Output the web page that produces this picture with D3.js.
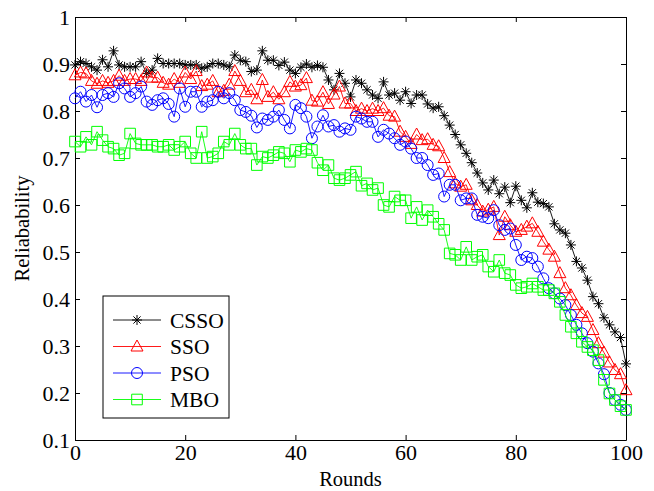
<!DOCTYPE html>
<html>
<head>
<meta charset="utf-8">
<script src="https://cdn.jsdelivr.net/npm/d3@7"></script>
<style>
  body { margin: 0; background: #fff; }
  svg { display: block; font-family: 'Liberation Serif', 'Times New Roman', serif; }
</style>
</head>
<body>
<div class="Canvas"></div>
<script>
// rounds 0..100
const rounds = d3.range(0, 101);

const csso = [
  0.898, 0.905, 0.901, 0.894, 0.887, 0.909, 0.894, 0.928, 0.898, 0.894,
  0.894, 0.894, 0.905, 0.880, 0.887, 0.912, 0.901, 0.901, 0.901, 0.901,
  0.898, 0.898, 0.898, 0.891, 0.894, 0.901, 0.901, 0.898, 0.894, 0.919,
  0.908, 0.905, 0.884, 0.887, 0.928, 0.908, 0.908, 0.897, 0.904, 0.887,
  0.880, 0.893, 0.900, 0.893, 0.897, 0.893, 0.866, 0.845, 0.880, 0.859,
  0.830, 0.866, 0.859, 0.845, 0.834, 0.827, 0.862, 0.834, 0.838, 0.823,
  0.841, 0.816, 0.834, 0.834, 0.815, 0.806, 0.809, 0.790, 0.770, 0.750,
  0.728, 0.710, 0.690, 0.668, 0.647, 0.632, 0.653, 0.624, 0.638, 0.605,
  0.640, 0.610, 0.594, 0.626, 0.606, 0.603, 0.596, 0.560, 0.547, 0.540,
  0.515, 0.480, 0.466, 0.440, 0.405, 0.390, 0.360, 0.345, 0.330, 0.318, 0.262,
];
const sso = [
  0.876, 0.882, 0.880, 0.864, 0.858, 0.864, 0.860, 0.864, 0.875, 0.864,
  0.868, 0.868, 0.864, 0.882, 0.871, 0.871, 0.860, 0.856, 0.868, 0.860,
  0.882, 0.868, 0.885, 0.853, 0.856, 0.864, 0.840, 0.843, 0.856, 0.885,
  0.864, 0.840, 0.845, 0.825, 0.866, 0.830, 0.840, 0.825, 0.840, 0.862,
  0.852, 0.855, 0.870, 0.822, 0.820, 0.840, 0.815, 0.835, 0.852, 0.816,
  0.816, 0.800, 0.805, 0.800, 0.805, 0.800, 0.806, 0.790, 0.788, 0.756,
  0.745, 0.730, 0.750, 0.738, 0.740, 0.728, 0.725, 0.700, 0.670, 0.646,
  0.639, 0.643, 0.610, 0.600, 0.586, 0.590, 0.596, 0.536, 0.575, 0.557,
  0.543, 0.547, 0.554, 0.561, 0.543, 0.522, 0.505, 0.490, 0.455, 0.423,
  0.408, 0.387, 0.370, 0.362, 0.334, 0.306, 0.286, 0.265, 0.249, 0.240, 0.206,
];
const pso = [
  0.827, 0.841, 0.820, 0.834, 0.808, 0.834, 0.838, 0.830, 0.859, 0.848,
  0.830, 0.838, 0.852, 0.820, 0.813, 0.823, 0.827, 0.815, 0.788, 0.848,
  0.809, 0.841, 0.841, 0.809, 0.820, 0.823, 0.841, 0.827, 0.838, 0.823,
  0.802, 0.798, 0.790, 0.765, 0.784, 0.781, 0.788, 0.802, 0.781, 0.763,
  0.813, 0.806, 0.788, 0.742, 0.767, 0.791, 0.767, 0.770, 0.756, 0.763,
  0.760, 0.788, 0.784, 0.777, 0.777, 0.745, 0.760, 0.752, 0.742, 0.728,
  0.735, 0.720, 0.700, 0.700, 0.685, 0.664, 0.667, 0.618, 0.643, 0.643,
  0.610, 0.614, 0.614, 0.579, 0.575, 0.572, 0.589, 0.557, 0.547, 0.550,
  0.515, 0.483, 0.490, 0.487, 0.469, 0.444, 0.423, 0.412, 0.401, 0.387,
  0.366, 0.345, 0.327, 0.306, 0.288, 0.263, 0.240, 0.200, 0.185, 0.175, 0.164,
];
const mbo = [
  0.735, 0.724, 0.745, 0.728, 0.756, 0.738, 0.724, 0.720, 0.706, 0.710,
  0.752, 0.731, 0.728, 0.728, 0.728, 0.724, 0.724, 0.728, 0.717, 0.724,
  0.735, 0.710, 0.700, 0.756, 0.700, 0.703, 0.710, 0.735, 0.728, 0.752,
  0.728, 0.720, 0.720, 0.685, 0.703, 0.700, 0.706, 0.713, 0.710, 0.692,
  0.717, 0.713, 0.720, 0.717, 0.690, 0.674, 0.685, 0.657, 0.653, 0.657,
  0.664, 0.671, 0.641, 0.646, 0.632, 0.636, 0.600, 0.596, 0.618, 0.610,
  0.610, 0.572, 0.596, 0.568, 0.589, 0.575, 0.560, 0.547, 0.497, 0.494,
  0.483, 0.511, 0.483, 0.490, 0.494, 0.469, 0.458, 0.483, 0.455, 0.451,
  0.430, 0.423, 0.426, 0.433, 0.426, 0.419, 0.419, 0.412, 0.394, 0.366,
  0.341, 0.327, 0.309, 0.298, 0.291, 0.270, 0.228, 0.199, 0.185, 0.172, 0.164,
];

const seriesNames = ['CSSO', 'SSO', 'PSO', 'MBO'];
const seriesColors = ['#000000', '#ff0000', '#0000ff', '#00ff00'];
const seriesMarkers = ['star', 'triangle', 'circle', 'square'];
const xTicks = [0, 20, 40, 60, 80, 100];
const yTicks = [0.1, 0.2, 0.3, 0.4, 0.5, 0.6, 0.7, 0.8, 0.9, 1];

const width = 654;
const height = 491;
const margin = { left: 75, right: 28, top: 17, bottom: 51 };
const fontSize = 20.5;
const tickFontSize = 22;
const tickLen = 5;

const series = [csso, sso, pso, mbo].map((values, i) => ({
  name: seriesNames[i],
  color: seriesColors[i],
  marker: seriesMarkers[i],
  points: values.map((v, j) => ({ x: rounds[j], y: v })),
}));

const x = d3.scaleLinear().domain([0, 100]).range([margin.left, width - margin.right]);
const y = d3.scaleLinear().domain([0.1, 1]).range([height - margin.bottom, margin.top]);

const markerPath = (type) => {
  if (type == 'star') {
    const r = 5;
    const d = r * 0.72;
    return `M${-r},0L${r},0M0,${-r}L0,${r}M${-d},${-d}L${d},${d}M${-d},${d}L${d},${-d}`;
  }
  if (type == 'triangle') return 'M0,-6.5L6,4.5L-6,4.5Z';
  if (type == 'square') return 'M-5.3,-5.3L5.3,-5.3L5.3,5.3L-5.3,5.3Z';
  return 'M5.5,0A5.5,5.5 0 1,1 -5.5,0A5.5,5.5 0 1,1 5.5,0Z';
};

const svg = d3.select('.Canvas').append('svg').attr('width', width).attr('height', height);

// axes with inward ticks on all four sides
const styleAxis = (g) => {
  g.selectAll('path.domain').attr('stroke', '#000').attr('stroke-width', 1);
  g.selectAll('.tick line').attr('stroke', '#000');
  g.selectAll('.tick text')
    .attr('font-size', tickFontSize)
    .attr('font-family', "'Liberation Serif', 'Times New Roman', serif")
    .attr('fill', '#000');
};

svg.append('g')
  .attr('transform', `translate(0,${height - margin.bottom})`)
  .call(d3.axisBottom(x).tickValues(xTicks).tickSize(-tickLen).tickSizeOuter(0).tickPadding(4).tickFormat(d3.format('d')))
  .call(styleAxis);
svg.append('g')
  .attr('transform', `translate(0,${margin.top})`)
  .call(d3.axisTop(x).tickValues(xTicks).tickSize(-tickLen).tickSizeOuter(0).tickFormat(''))
  .call(styleAxis);
svg.append('g')
  .attr('transform', `translate(${margin.left},0)`)
  .call(d3.axisLeft(y).tickValues(yTicks).tickSize(-tickLen).tickSizeOuter(0).tickPadding(5).tickFormat((d) => (d == 1 ? '1' : d3.format('.1f')(d))))
  .call(styleAxis);
svg.append('g')
  .attr('transform', `translate(${width - margin.right},0)`)
  .call(d3.axisRight(y).tickValues(yTicks).tickSize(-tickLen).tickSizeOuter(0).tickFormat(''))
  .call(styleAxis);

// series
const line = d3.line().x((d) => x(d.x)).y((d) => y(d.y));
const groups = svg.selectAll('g.series').data(series).enter().append('g').attr('class', 'series');
groups
  .append('path')
  .attr('d', (d) => line(d.points))
  .attr('fill', 'none')
  .attr('stroke', (d) => d.color)
  .attr('stroke-width', 0.9);
groups.each(function (s) {
  d3.select(this)
    .selectAll('path.marker')
    .data(s.points)
    .enter()
    .append('path')
    .attr('class', 'marker')
    .attr('transform', (d) => `translate(${x(d.x)},${y(d.y)})`)
    .attr('d', markerPath(s.marker))
    .attr('fill', 'none')
    .attr('stroke', s.color)
    .attr('stroke-width', 1);
});

// axis titles
svg.append('text')
  .attr('x', (x(0) + x(100)) / 2)
  .attr('y', 486)
  .attr('text-anchor', 'middle')
  .attr('font-size', fontSize)
  .text('Rounds');
svg.append('text')
  .attr('transform', `translate(29,${(y(0.1) + y(1)) / 2}) rotate(-90)`)
  .attr('text-anchor', 'middle')
  .attr('font-size', fontSize)
  .text('Reliabability');

// legend
const legend = svg.append('g').attr('transform', 'translate(103,296)');
legend.append('rect')
  .attr('width', 126)
  .attr('height', 122)
  .attr('fill', '#fff')
  .attr('stroke', '#000')
  .attr('stroke-width', 1);
const rows = legend.selectAll('g.row').data(series).enter().append('g')
  .attr('class', 'row')
  .attr('transform', (d, i) => `translate(0,${24 + i * 26.5})`);
rows.append('line')
  .attr('x1', 10).attr('x2', 58)
  .attr('stroke', (d) => d.color)
  .attr('stroke-width', 0.9);
rows.append('path')
  .attr('transform', 'translate(34,0)')
  .attr('d', (d) => markerPath(d.marker))
  .attr('fill', 'none')
  .attr('stroke', (d) => d.color);
rows.append('text')
  .attr('x', 67)
  .attr('dy', '0.35em')
  .attr('font-size', 21.5)
  .text((d) => d.name);
</script>
</body>
</html>
